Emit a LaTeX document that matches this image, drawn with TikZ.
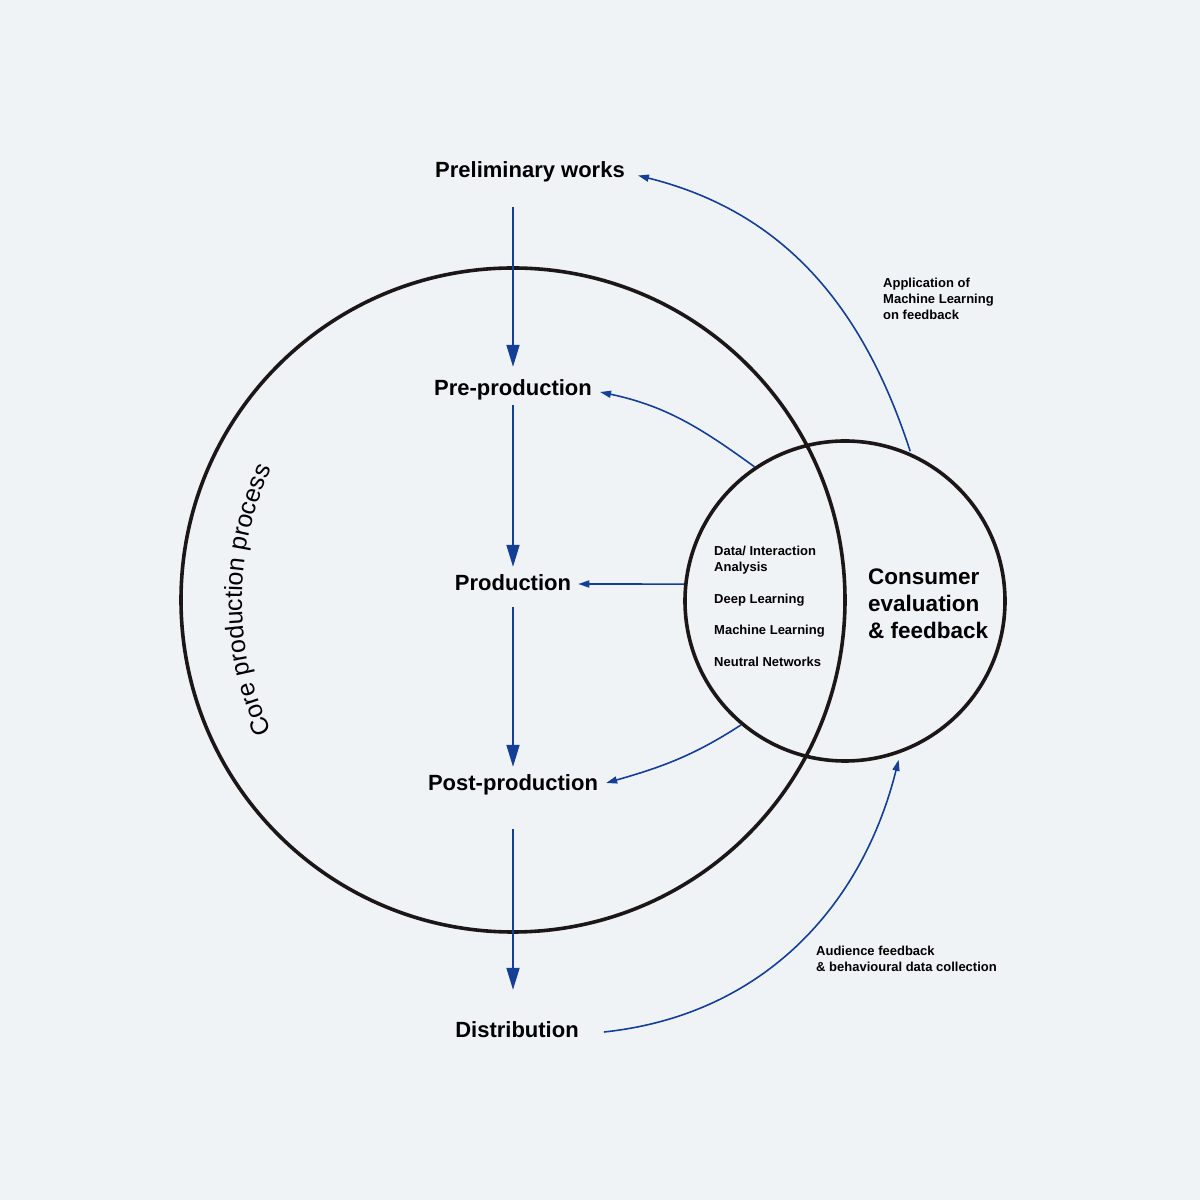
\documentclass[tikz,border=0pt]{standalone}
\usepackage{fontspec}
\setmainfont{Liberation Sans}
\usetikzlibrary{arrows.meta,decorations.text}
\definecolor{bgcol}{HTML}{EFF3F6}
\definecolor{flowblue}{HTML}{153E96}
\definecolor{ringcol}{HTML}{1C1616}

\begin{document}
\begin{tikzpicture}[x=1pt,y=1pt,
  stage/.style={anchor=base,font=\fontsize{22}{26}\selectfont\bfseries,inner sep=0pt,text height=16pt,text depth=5pt},
  ring/.style={circle,draw=ringcol,line width=3.6pt,inner sep=0pt},
  down/.style={draw=flowblue,line width=1.8pt,-{Triangle[length=22pt,width=13pt]}},
  back/.style={draw=flowblue,line width=1.6pt,-{Triangle[length=11pt,width=7pt]}},
  note/.style={anchor=north west,font=\fontsize{13}{16}\selectfont\bfseries,inner sep=0pt,align=left}]
\fill[bgcol] (0,0) rectangle (1200,1200);
\node[ring,minimum size=664pt] (core) at (513,600) {};
\node[ring,minimum size=320pt] (fb) at (845,599) {};
\node[stage] (prelim) at (530,1022) {Preliminary works};
\node[stage] (pre) at (513,804) {Pre-production};
\node[stage] (prod) at (513,609) {Production};
\node[stage] (post) at (513,409) {Post-production};
\node[stage] (dist) at (517,162) {Distribution};
\node[anchor=north west,font=\fontsize{22.5}{27}\selectfont\bfseries,inner sep=0pt,align=left] (cons) at (868,631) {Consumer\\evaluation\\\& feedback};
\node[note] (ml) at (714,654) {Data/ Interaction\\Analysis\\[16pt]Deep Learning\\[15pt]Machine Learning\\[16pt]Neutral Networks};
\node[note] (apptxt) at (883,922) {Application of\\Machine Learning\\on feedback};
\node[note] (audtxt) at (816,254) {Audience feedback\\\& behavioural data collection};
\path[decorate,decoration={text along path,text={|\fontsize{25}{25}\selectfont|Core production process},text align=center}]
  (551,600) ++(215:309) arc[start angle=215,end angle=145,radius=309];
\draw[down,shorten <=24pt,shorten >=13pt] (pre |- prelim.south) -- (pre.north);
\draw[down,shorten <=4pt,shorten >=8pt] (pre.south) -- (prod.north);
\draw[down,shorten <=11pt,shorten >=8pt] (prod.south) -- (post.north);
\draw[down,shorten <=33pt,shorten >=32pt] (post.south) -- (post |- dist.north);
\draw[back,shorten <=2pt] (fb.66) to[out=108,in=-14] ([shift={(13,-3)}]prelim.east);
\draw[back] (fb.124) to[out=144,in=-12] ([shift={(8,-1.5)}]pre.east);
\draw[back] (fb.174) -- ([shift={(7,1.5)}]prod.east);
\draw[back] (fb.230) to[out=213,in=16] ([shift={(8,2.5)}]post.east);
\draw[back,shorten >=7pt] ([shift={(25,0.5)}]dist.east) to[out=6,in=-104] (fb.290);
\end{tikzpicture}
\end{document}
